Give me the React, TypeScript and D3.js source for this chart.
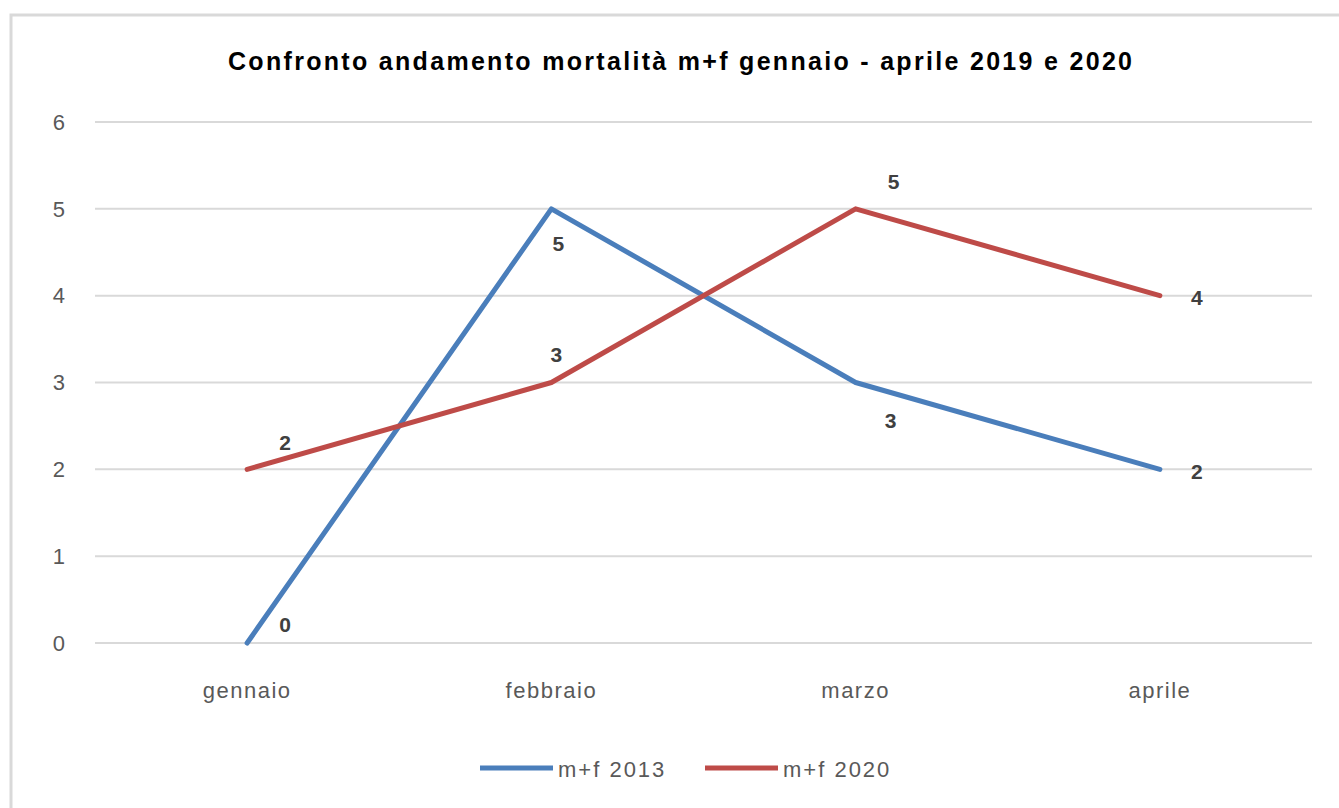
import React from 'react';
import * as d3 from 'd3';

const months = ['gennaio', 'febbraio', 'marzo', 'aprile'];
const values2019 = [0, 5, 3, 2];
const values2020 = [2, 3, 5, 4];
const yTicks = [0, 1, 2, 3, 4, 5, 6];
const seriesNames = ['m+f 2013', 'm+f 2020'];
const seriesColors = ['#4a7ebb', '#be4b48'];
// where each data label sits relative to its point
const labelModes2019 = ['aboveRight', 'under', 'below', 'right'];
const labelModes2020 = ['above', 'over', 'above', 'right'];

const title = 'Confronto andamento mortalità m+f gennaio - aprile 2019 e 2020';

const labelOffset: Record<string, [number, number]> = {
  above: [38, -27],
  aboveRight: [38, -18],
  over: [5, -28],
  below: [35, 38],
  under: [7, 35],
  right: [37, 2],
};

export default function App() {
  const width = 1339;
  const height = 808;
  const left = 95, right = 1312, top = 122, bottom = 643;

  const x = d3.scaleBand().domain(months).range([left, right]);
  const y = d3.scaleLinear().domain([0, 6]).range([bottom, top]);
  const cx = (m: string) => (x(m) as number) + x.bandwidth() / 2;

  const line = d3.line<number>()
    .x((d, i) => cx(months[i]))
    .y(d => y(d));

  const series = [
    { name: seriesNames[0], values: values2019, color: seriesColors[0], modes: labelModes2019 },
    { name: seriesNames[1], values: values2020, color: seriesColors[1], modes: labelModes2020 },
  ];

  const font = 'Arial, "Liberation Sans", sans-serif';

  return (
    <svg width={width} height={height} style={{ position: 'absolute', left: 0, top: 0, background: '#fff' }}>
      <rect x={11} y={15} width={1400} height={900} fill="#fff" stroke="#d9d9d9" strokeWidth={3} />

      <text x={680} y={70} textAnchor="middle" fontFamily={font} fontWeight="bold" fontSize={25}
        fill="#000" textLength={904} lengthAdjust="spacing">{title}</text>

      {yTicks.map(t => (
        <g key={t}>
          <line x1={left} x2={right} y1={y(t)} y2={y(t)} stroke="#d9d9d9" strokeWidth={2} />
          <text x={65} y={y(t)} dy="0.35em" textAnchor="end" fontFamily={font} fontSize={22} fill="#595959">{t}</text>
        </g>
      ))}

      {months.map(m => (
        <text key={m} x={cx(m)} y={698} textAnchor="middle" fontFamily={font} fontSize={22}
          letterSpacing={1.5} fill="#595959">{m}</text>
      ))}

      {series.map(s => (
        <path key={s.name} d={line(s.values) || ''} fill="none" stroke={s.color} strokeWidth={5}
          strokeLinejoin="round" strokeLinecap="round" />
      ))}

      {series.map(s => s.values.map((v, i) => {
        const [dx, dy] = labelOffset[s.modes[i]];
        return (
          <text key={s.name + i} x={cx(months[i]) + dx} y={y(v) + dy} dy="0.35em" textAnchor="middle"
            fontFamily={font} fontWeight="bold" fontSize={21} fill="#404040">{v}</text>
        );
      }))}

      {series.map((s, i) => {
        const lx = 480 + i * 225;
        return (
          <g key={s.name}>
            <line x1={lx} x2={lx + 73} y1={768} y2={768} stroke={s.color} strokeWidth={5} />
            <text x={lx + 78} y={769} dy="0.35em" fontFamily={font} fontSize={22} letterSpacing={2}
              fill="#595959">{s.name}</text>
          </g>
        );
      })}
    </svg>
  );
}
